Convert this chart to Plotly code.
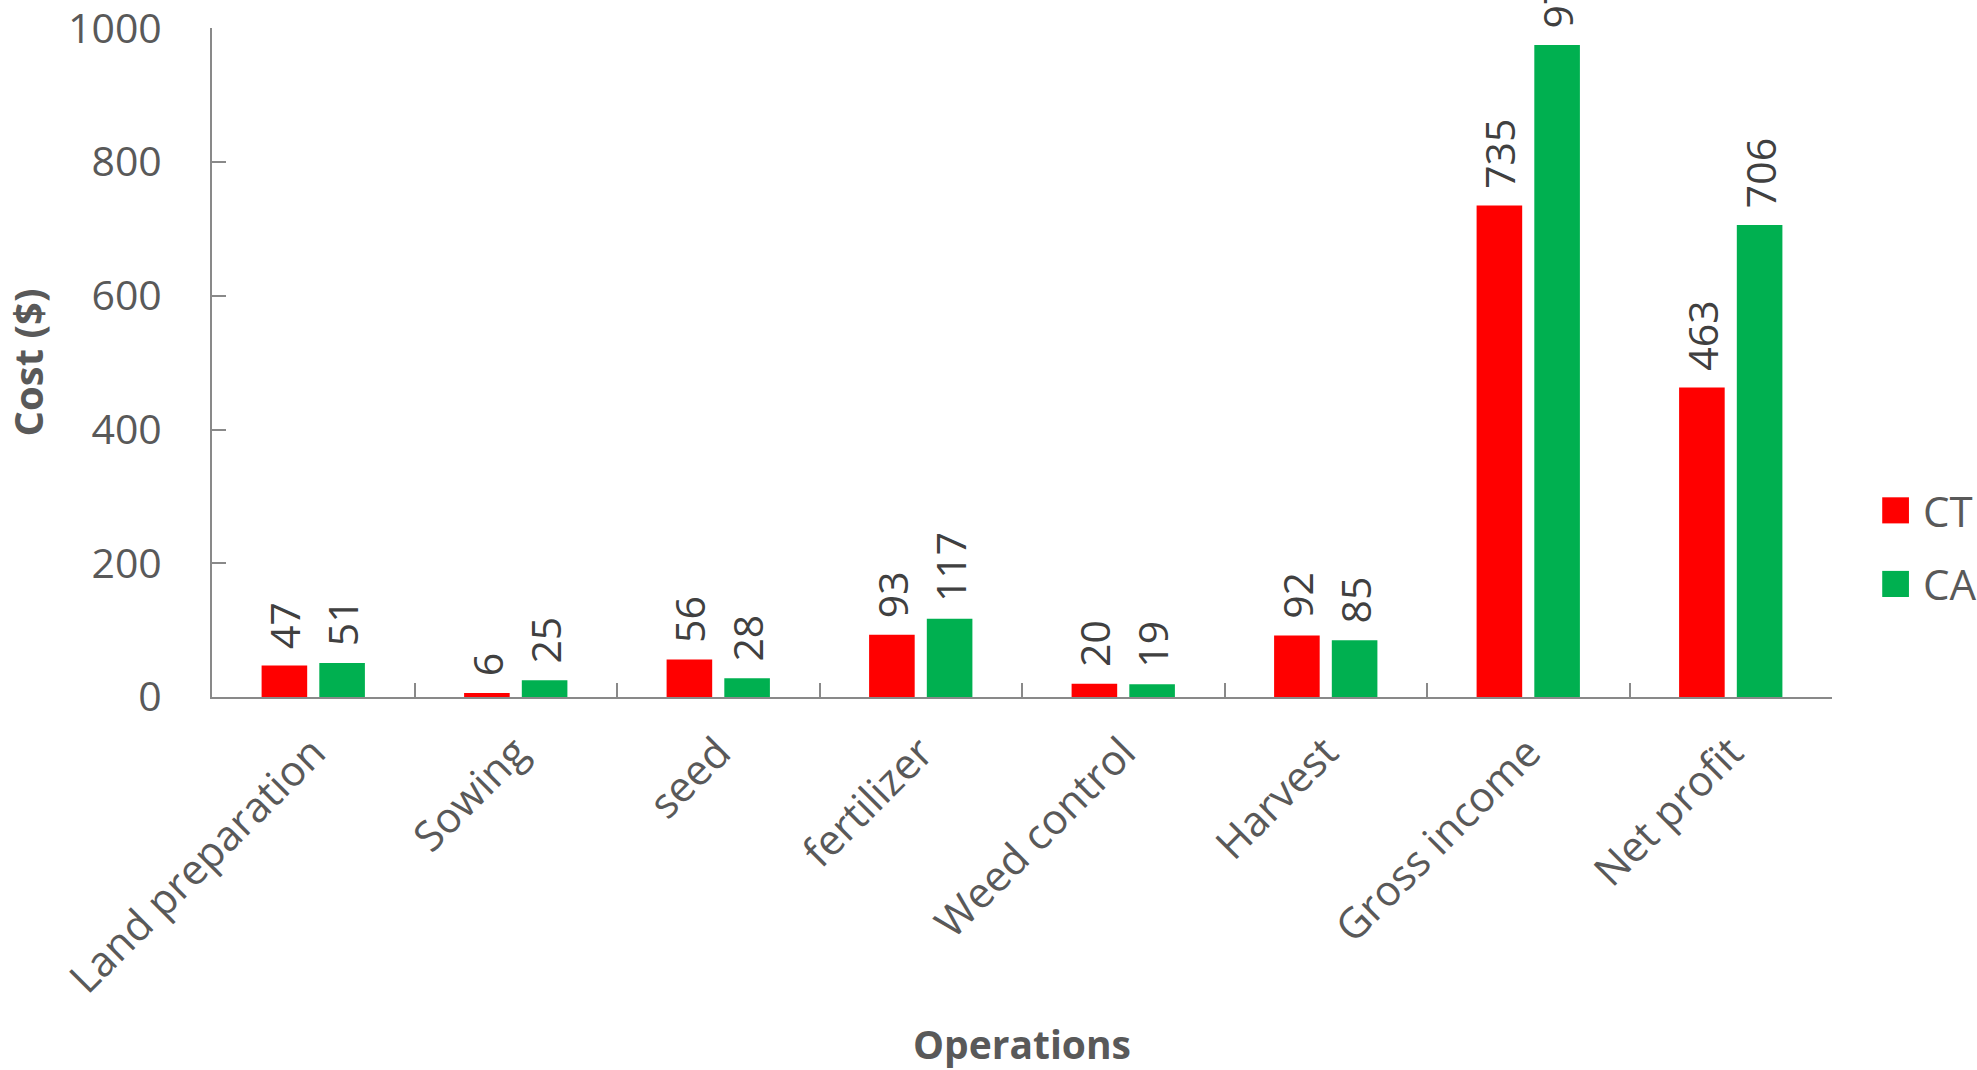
import plotly.graph_objects as go

categories = ["Land preparation", "Sowing", "seed", "fertilizer", "Weed control",
              "Harvest", "Gross income", "Net profit"]
series_names = ["CT", "CA"]
ct_values = [47, 6, 56, 93, 20, 92, 735, 463]
ca_values = [51, 25, 28, 117, 19, 85, 975, 706]
series_colors = ["#FF0000", "#00B050"]
y_ticks = [0, 200, 400, 600, 800, 1000]

FONT = "Open Sans"
GRAY = "#595959"
AXIS = "#898989"

fig = go.Figure()
for name, vals, col in zip(series_names, [ct_values, ca_values], series_colors):
    fig.add_trace(go.Bar(
        x=categories, y=vals, name=name, marker=dict(color=col, line=dict(width=0)),
        text=["\u2004" + str(v) for v in vals], textposition="outside", textangle=-90,
        textfont=dict(family=FONT, size=41, color="#404040"),
        cliponaxis=False, constraintext="none", showlegend=False,
    ))

# custom legend (large square swatches like the original)
leg_y = [0.279, 0.169]
for name, col, ly in zip(series_names, series_colors, leg_y):
    fig.add_shape(type="rect", xref="paper", yref="paper",
                  x0=1.031, x1=1.0475, y0=ly - 0.0195, y1=ly + 0.0195,
                  fillcolor=col, line=dict(width=0))
    fig.add_annotation(xref="paper", yref="paper", x=1.055, y=ly, text=name,
                       showarrow=False, xanchor="left", yanchor="middle",
                       font=dict(family=FONT, size=42, color=GRAY))

fig.update_layout(
    width=1977, height=1070,
    margin=dict(l=212, r=145, t=28, b=373, autoexpand=False),
    paper_bgcolor="white", plot_bgcolor="white",
    barmode="group", bargap=0.43, bargroupgap=0.21,
    font=dict(family=FONT, color=GRAY),
)
fig.update_xaxes(
    showline=True, linecolor=AXIS, linewidth=2,
    ticks="inside", ticklen=14, tickwidth=2, tickcolor=AXIS, tickson="boundaries",
    tickangle=-45, tickfont=dict(family=FONT, size=42, color=GRAY), ticklabelstandoff=12,
    showgrid=False, automargin=False,
    title=dict(text="<b>Operations</b>", font=dict(family=FONT, size=39, color=GRAY), standoff=29),
)
fig.update_yaxes(
    range=[0, 1000.5], tickvals=y_ticks, showline=True, linecolor=AXIS, linewidth=2,
    ticks="inside", ticklen=14, tickwidth=2, tickcolor=AXIS,
    tickfont=dict(family=FONT, size=41, color=GRAY), ticklabelstandoff=40,
    ticklabeloverflow="allow",
    showgrid=False, zeroline=False, automargin=False,
    title=dict(text="<b>Cost ($)</b>", font=dict(family=FONT, size=40, color=GRAY), standoff=30),
)

fig.write_html("out.html")
